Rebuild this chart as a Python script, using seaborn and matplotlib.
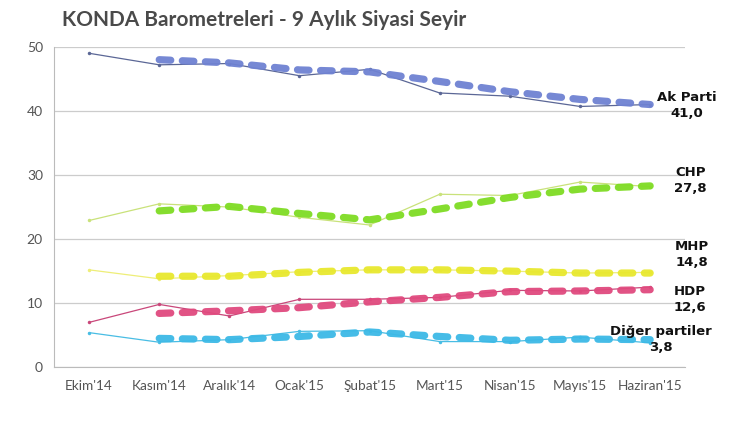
import numpy as np
import pandas as pd
import matplotlib
matplotlib.use("Agg")
import matplotlib.pyplot as plt
import seaborn as sns

sns.set_style("white")
plt.rcParams['font.family'] = ['Lato', 'DejaVu Sans']

months = ["Ekim'14", "Kasım'14", "Aralık'14", "Ocak'15", "Şubat'15",
          "Mart'15", "Nisan'15", "Mayıs'15", "Haziran'15"]

# monthly survey values (thin lines)
ak_raw = [49.0, 47.2, 47.4, 45.5, 46.5, 42.8, 42.3, 40.7, 41.0]
chp_raw = [22.9, 25.5, 25.0, 23.4, 22.2, 27.0, 26.8, 28.9, 28.2]
mhp_raw = [15.2, 13.8, 14.3, 14.9, 15.2, 15.2, 15.0, 14.7, 14.8]
hdp_raw = [7.0, 9.8, 8.0, 10.6, 10.6, 10.9, 12.0, 11.9, 12.5]
diger_raw = [5.4, 3.9, 4.3, 5.6, 5.7, 4.0, 4.0, 4.7, 3.8]

# smoothed trend (thick dashed lines, from Kasım'14)
ak_trend = [48.0, 47.5, 46.4, 46.1, 44.6, 43.0, 41.8, 41.0]
chp_trend = [24.4, 25.1, 24.0, 23.0, 24.7, 26.5, 27.8, 28.3]
mhp_trend = [14.2, 14.2, 14.8, 15.2, 15.2, 15.0, 14.7, 14.7]
hdp_trend = [8.4, 8.8, 9.3, 10.2, 10.9, 11.8, 11.9, 12.1]
diger_trend = [4.5, 4.3, 4.8, 5.5, 4.8, 4.2, 4.4, 4.3]

parties = ["Ak Parti", "CHP", "MHP", "HDP", "Diğer partiler"]
last_values = ["41,0", "27,8", "14,8", "12,6", "3,8"]
raws = [ak_raw, chp_raw, mhp_raw, hdp_raw, diger_raw]
trends = [ak_trend, chp_trend, mhp_trend, hdp_trend, diger_trend]
thick_colors = ["#6f82d2", "#7fdc24", "#e8e82e", "#e04a7e", "#3cb9e6"]
thin_colors = ["#5b6796", "#c9e27a", "#eeee78", "#c9477a", "#49bde4"]
# label anchor (x in category units, y in data units)
label_pos = [(8.52, 40.9), (8.57, 29.2), (8.6, 17.6), (8.57, 10.5), (8.15, 4.4)]

x = np.arange(len(months))

fig, ax = plt.subplots(figsize=(7.4, 4.3), dpi=100)
fig.subplots_adjust(left=0.073, right=0.926, bottom=0.146, top=0.891)

for name, raw, trend, c1, c2 in zip(parties, raws, trends, thick_colors, thin_colors):
    sns.lineplot(x=x, y=raw, ax=ax, color=c2, linewidth=0.9, marker='o',
                 markersize=2.5, markeredgewidth=0, zorder=3)
    sns.lineplot(x=x[1:], y=trend, ax=ax, color=c1, linewidth=5.2, zorder=4)
    ln = ax.lines[-1]
    ln.set_dashes((1.6, 1.6))
    ln.set_dash_capstyle('round')
    ln.set_alpha(0.95)

for (lx, ly), name, val in zip(label_pos, parties, last_values):
    ax.text(lx, ly, f"{name}\n{val}", ha='center', va='center', fontsize=9.5,
            fontweight='bold', color='#111111', linespacing=1.3, zorder=6,
            family=['DejaVu Sans'])

ax.set_xlim(-0.5, 8.5)
ax.set_ylim(0, 50)
ax.set_yticks([0, 10, 20, 30, 40, 50])
ax.set_xticks(x)
ax.set_xticklabels(months)
ax.set_xticks(np.arange(-0.5, 9, 1), minor=True)
ax.tick_params(axis='x', which='major', length=0, pad=9, labelsize=9.8, colors='#555555')
ax.tick_params(axis='x', which='minor', length=4, color='#bbbbbb', direction='out')
ax.tick_params(axis='y', length=4, color='#bbbbbb', labelsize=10, labelcolor='#555555', pad=4)
ax.grid(axis='y', color='#cccccc', linewidth=0.9)
ax.set_axisbelow(True)
for side in ['top', 'right']:
    ax.spines[side].set_visible(False)
ax.spines['left'].set_color('#bbbbbb')
ax.spines['bottom'].set_color('#bbbbbb')
ax.set_xlabel('')
ax.set_ylabel('')

fig.text(0.084, 0.953, "KONDA Barometreleri - 9 Aylık Siyasi Seyir", fontsize=15,
         fontweight='bold', color='#4a4a4a', ha='left', va='center')

plt.savefig('out.png', dpi=100)
